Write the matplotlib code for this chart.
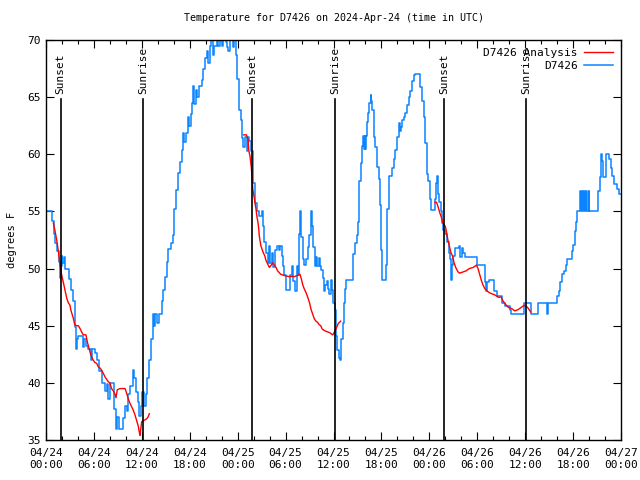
import numpy as np
import matplotlib
matplotlib.use("Agg")
import matplotlib.pyplot as plt

plt.rcParams['font.family'] = ['DejaVu Sans Mono']
plt.rcParams['font.size'] = 7.5

# hours since 2024-04-24 00:00 UTC
obs_hours = [0.0, 0.71, 1.0, 1.17, 1.42, 1.63, 1.75, 1.85, 1.95, 2.05, 2.2, 2.4, 2.88, 3.09,
             3.34, 3.59, 3.76, 3.84, 4.05, 4.59, 4.8, 5.0, 5.3, 5.59, 5.8, 6.13, 6.43, 6.68,
             6.97, 7.39, 7.6, 7.8, 8.0, 8.5, 8.76, 8.93, 9.18, 9.6, 9.89, 10.1, 10.3, 10.52,
             10.85, 11.06, 11.27, 11.48, 11.69, 11.85, 12.02, 12.27, 12.52, 12.69, 12.94, 13.1,
             13.36, 13.52, 13.69, 13.94, 14.19, 14.48, 14.69, 14.9, 15.11, 15.32, 15.61, 15.86,
             16.07, 16.28, 16.57, 16.78, 16.99, 17.11, 17.32, 17.53, 17.74, 17.95, 18.12, 18.24,
             18.45, 18.57, 18.78, 18.95, 19.2, 19.49, 19.7, 19.91, 20.12, 20.33, 20.54, 20.62,
             20.87, 21.04, 21.37, 21.58, 21.79, 22.0, 22.21, 22.54, 22.71, 22.83, 23.04, 23.37,
             23.54, 23.79, 23.96, 24.12, 24.21, 24.42, 24.54, 24.71, 24.96, 25.13, 25.25, 25.46,
             25.67, 25.88, 25.96, 26.21, 26.38, 26.71, 27.05, 27.21, 27.34, 27.55, 27.76, 27.88,
             28.05, 28.3, 28.47, 28.72, 28.88, 29.13, 29.3, 29.55, 29.72, 29.85, 30.05, 30.55,
             30.8, 30.97, 31.22, 31.39, 31.55, 31.72, 31.8, 31.97, 32.14, 32.35, 32.56, 32.77,
             32.98, 33.19, 33.31, 33.48, 33.64, 33.81, 33.98, 34.14, 34.31, 34.48, 34.65, 34.81,
             34.98, 35.15, 35.31, 35.48, 35.65, 35.81, 35.98, 36.15, 36.28, 36.36, 36.44, 36.65,
             36.86, 36.98, 37.15, 37.27, 37.39, 37.56, 38.4, 38.49, 38.65, 38.9, 39.03, 39.15,
             39.24, 39.41, 39.57, 39.66, 39.83, 39.91, 39.99, 40.08, 40.24, 40.33, 40.49, 40.66,
             40.74, 40.82, 41.03, 41.24, 41.45, 41.66, 41.87, 42.0, 42.08, 42.58, 42.71, 42.91,
             43.33, 43.54, 43.75, 43.96, 44.17, 44.33, 44.42, 44.58, 44.79, 45.0, 45.2, 45.41,
             45.62, 45.83, 46.04, 46.25, 46.88, 47.08, 47.29, 47.5, 47.71, 47.83, 48.04, 48.25,
             48.75, 48.88, 49.0, 49.08, 49.17, 49.5, 49.58, 49.71, 49.92, 50.26, 50.42, 50.59,
             50.67, 50.75, 50.84, 50.96, 51.26, 51.68, 51.8, 52.13, 52.26, 52.43, 54.01, 54.93,
             55.14, 55.26, 55.43, 56.1, 56.52, 57.1, 57.52, 58.06, 58.27, 59.85, 60.69, 61.61,
             62.69, 62.86, 64.03, 64.19, 64.36, 64.65, 64.86, 65.07, 65.19, 65.91, 66.03, 66.2,
             66.32, 66.45, 66.87, 66.95, 67.12, 67.2, 67.37, 67.49, 67.62, 67.79, 67.95, 68.04,
             69.12, 69.37, 69.46, 69.62, 69.79, 70.12, 70.5, 70.71, 70.92, 71.13, 71.55, 71.76,
             72.0]
obs_temp = [55.0, 54.2, 53.0, 52.2, 51.5, 50.6, 49.2, 50.2, 51.1, 50.5, 51.0, 50.0, 49.1, 48.1,
            47.2, 44.9, 43.0, 43.8, 44.1, 43.1, 43.8, 43.2, 43.0, 42.0, 43.0, 42.6, 42.0, 41.0,
            40.0, 39.3, 39.9, 38.6, 40.0, 37.7, 36.0, 37.0, 36.0, 36.9, 38.0, 37.5, 39.0, 39.7,
            41.1, 40.4, 39.2, 38.3, 37.1, 38.0, 39.2, 38.0, 39.0, 40.4, 42.0, 43.8,
            46.0, 45.0, 46.0, 45.2, 46.0, 47.2, 48.1, 49.3, 50.6, 51.7, 52.2, 52.9,
            55.2, 56.9, 58.4, 59.3, 60.4, 61.9, 61.1, 61.9, 63.3, 62.5, 63.5, 64.5,
            66.0, 64.4, 65.6, 65.0, 66.0, 66.5, 67.5, 68.4, 69.0, 68.0, 69.5, 70.5,
            68.7, 69.5, 70.5, 69.5, 70.5, 69.5, 70.3, 69.8, 69.4, 69.0, 70.5, 69.4,
            70.0, 68.7, 66.6, 65.0, 63.9, 63.0, 61.4, 60.6, 61.5, 60.3, 61.5, 61.2,
            60.3, 59.5, 57.5, 55.7, 55.0, 54.6, 55.0, 53.7, 52.3, 51.4, 50.5, 52.0,
            50.5, 51.4, 50.1, 51.6, 52.0, 51.6, 52.0, 51.1, 50.2, 49.4, 48.1, 49.4,
            50.2, 48.9, 48.0, 50.2, 49.4, 53.0, 55.0, 52.8, 50.8, 50.3, 50.8, 51.9,
            52.9, 55.0, 53.7, 51.9, 50.2, 51.0, 50.2, 50.9, 50.2, 49.9, 49.2, 48.0,
            48.6, 48.9, 48.2, 47.8, 49.0, 48.1, 47.0, 46.4, 45.0, 44.1, 42.9, 42.2,
            42.0, 43.8, 45.2, 47.0, 48.2, 49.0, 49.7, 51.3, 52.2, 52.9, 54.1, 56.1,
            57.7, 59.2, 60.7, 61.6, 60.5, 61.6, 60.5, 61.6, 62.8, 63.6, 64.5, 65.2,
            64.7, 63.9, 61.5, 60.6, 58.9, 57.8, 55.6, 51.6, 49.0, 50.3, 55.2, 58.1,
            58.8, 59.6, 60.4, 61.5, 62.7, 62.0, 62.4, 63.0, 63.3, 63.6, 64.3, 65.0,
            65.5, 66.4, 66.9, 67.0, 65.9, 64.7, 63.3, 61.0, 58.3, 57.7, 56.1, 55.1,
            56.1, 57.5, 58.1, 56.5, 55.8, 55.0, 54.0, 53.4, 53.0, 52.3, 51.4, 50.8,
            50.0, 49.0, 50.3, 51.1, 51.8, 52.0, 51.0, 51.8, 51.4, 51.0, 50.3, 48.8,
            48.0, 48.8, 49.0, 48.0, 47.6, 47.0, 46.7, 46.4, 46.0, 47.0, 46.0, 47.0,
            46.0, 47.0, 47.6, 48.0, 48.8, 49.5, 49.8, 50.3, 50.8, 51.5, 52.1, 53.3,
            54.1, 55.0, 56.8, 55.0, 56.8, 55.0, 56.8, 55.0, 56.8, 55.0, 56.8, 55.0,
            56.8, 58.0, 60.0, 59.4, 58.0, 60.0, 59.6, 58.8, 58.1, 57.4, 57.0, 56.5,
            56.5]

# analysis series, three nightly segments
ana1_hours = [0.92, 1.1, 1.34, 1.55, 1.7, 1.84, 2.0, 2.2, 2.38, 2.6, 2.8, 3.0, 3.1, 3.4,
              3.6, 3.8, 4.05, 4.3, 4.5, 4.67, 5.0, 5.2, 5.4, 5.55, 5.7, 5.9, 6.1, 6.35,
              6.55, 6.76, 6.97, 7.2, 7.4, 7.6, 7.8, 8.0, 8.2, 8.43, 8.64, 8.76, 8.93, 9.27,
              9.68, 9.9, 10.0, 10.18, 10.3, 10.52, 10.73, 10.93, 11.14, 11.35, 11.56, 11.68,
              11.77, 11.98, 12.19, 12.5, 12.65, 12.77, 12.94]
ana1_temp = [54.0, 53.4, 52.5, 51.5, 50.6, 49.9, 49.3, 48.7, 48.1, 47.4, 47.0, 46.8, 46.4, 45.7,
             45.1, 45.0, 45.0, 44.7, 44.4, 44.2, 44.2, 43.5, 43.0, 42.6, 42.3, 42.0, 41.8, 41.7,
             41.4, 41.3, 41.1, 40.8, 40.5, 40.3, 40.1, 40.0, 39.5, 39.3, 39.0, 38.7, 39.4, 39.5,
             39.5, 39.5, 39.3, 38.9, 38.6, 38.2, 37.9, 37.6, 37.2, 36.7, 36.2, 35.7,
             35.4, 36.6, 36.7, 36.8, 36.9, 37.0, 37.3]
ana2_hours = [24.75, 25.1, 25.3, 25.4, 25.55, 25.7, 25.8, 25.9, 26.1, 26.2, 26.3, 26.4, 26.55,
              26.65, 26.7, 26.9, 27.05, 27.2, 27.4, 27.55, 27.76, 27.97, 28.2, 28.4, 28.6,
              28.8, 29.0, 29.4, 29.8, 30.4, 31.1, 31.5, 31.8, 31.97, 32.14, 32.35, 32.56,
              32.77, 33.0, 33.2, 33.4, 33.6, 33.8, 34.0, 34.2, 34.4, 34.6, 34.8, 35.1,
              35.5, 35.9, 36.0, 36.3, 36.6, 36.9]
ana2_temp = [61.7, 61.7, 61.3, 60.3, 59.8, 58.9, 58.1, 56.9, 56.1, 55.6, 55.2, 54.6, 54.0,
             53.4, 52.9, 52.0, 51.7, 51.4, 51.1, 50.7, 50.4, 50.1, 50.3, 50.5, 50.3,
             50.1, 49.8, 49.5, 49.4, 49.3, 49.3, 49.4, 49.5, 49.1, 48.6, 48.2, 47.9,
             47.5, 47.0, 46.4, 46.0, 45.6, 45.4, 45.3, 45.1, 45.0, 44.7, 44.6, 44.5,
             44.4, 44.2, 44.3, 44.7, 45.2, 45.4]
ana3_hours = [48.7, 48.9, 49.1, 49.3, 49.5, 49.7, 50.0, 50.15, 50.3, 50.5, 50.7, 50.9, 51.1,
              51.3, 51.6, 51.8, 52.2, 52.6, 53.0, 53.5, 53.9, 54.1, 54.3, 54.5, 54.7,
              54.9, 55.3, 55.5, 55.8, 56.2, 56.6, 57.0, 57.2, 57.5, 57.9, 58.3, 58.7,
              59.1, 59.5, 59.9, 60.3, 60.5, 60.7]
ana3_temp = [55.8, 55.8, 55.4, 54.9, 54.5, 54.0, 53.7, 53.2, 52.6, 52.0, 51.4, 51.1, 50.5,
             50.1, 49.7, 49.6, 49.7, 49.8, 50.0, 50.1, 50.3, 50.0, 49.5, 49.0, 48.6,
             48.3, 48.0, 47.9, 47.8, 47.7, 47.5, 47.5, 47.2, 46.9, 46.6, 46.5, 46.3,
             46.4, 46.6, 46.8, 46.6, 46.4, 46.2]

sun_hours = [1.84, 12.19, 25.84, 36.23, 49.88, 60.15]
sun_labels = ['Sunset', 'Sunrise', 'Sunset', 'Sunrise', 'Sunset', 'Sunrise']

xtick_hours = [0, 6, 12, 18, 24, 30, 36, 42, 48, 54, 60, 66, 72]
xtick_labels = ['04/24\n00:00', '04/24\n06:00', '04/24\n12:00', '04/24\n18:00',
                '04/25\n00:00', '04/25\n06:00', '04/25\n12:00', '04/25\n18:00',
                '04/26\n00:00', '04/26\n06:00', '04/26\n12:00', '04/26\n18:00',
                '04/27\n00:00']

blue = '#0a84ff'
red = '#ff0000'

fig = plt.figure(figsize=(6.4, 4.8), dpi=100)
ax = fig.add_axes([46/640, 40/480, 575/640, 400/480])

ana_line = None
for hh, tt in [(ana1_hours, ana1_temp), (ana2_hours, ana2_temp), (ana3_hours, ana3_temp)]:
    ana_line, = ax.plot(hh, tt, color=red, lw=1.0, zorder=3)
obs_line, = ax.plot(obs_hours, obs_temp, color=blue, lw=1.1, drawstyle='steps-post', zorder=2)

for h, lab in zip(sun_hours, sun_labels):
    ax.plot([h, h], [35, 64.85], color='black', lw=1.2, zorder=4)
    ax.text(h, 65.3, lab, rotation=90, ha='center', va='bottom', fontsize=8)

ax.set_xlim(0, 72)
ax.set_ylim(35, 70)
ax.set_xticks(xtick_hours)
ax.set_xticklabels(xtick_labels)
ax.set_xticks(np.arange(0, 73, 2), minor=True)
ax.set_yticks(np.arange(35, 71, 5))
ax.tick_params(axis='both', which='both', direction='in', top=True, right=True)
ax.tick_params(which='major', length=6, width=0.8, labelsize=8)
ax.tick_params(which='minor', length=3, width=0.8)
ax.tick_params(axis='x', pad=6)
for sp in ax.spines.values():
    sp.set_linewidth(1.0)

ax.set_title('Temperature for D7426 on 2024-Apr-24 (time in UTC)', fontsize=7.2, pad=14)
ax.set_ylabel('degrees F', fontsize=7.5, labelpad=8)

leg = ax.legend([ana_line, obs_line], ['D7426 Analysis', 'D7426'], loc='upper right',
                frameon=False, markerfirst=False, handlelength=2.6, handletextpad=0.6,
                borderaxespad=0.3, labelspacing=0.25, fontsize=8)
for t in leg.get_texts():
    t.set_ha('right')

fig.savefig('out.png', dpi=100)
